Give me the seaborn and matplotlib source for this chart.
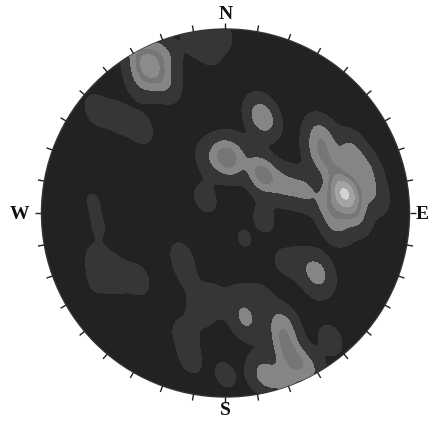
import numpy as np
import pandas as pd
import matplotlib
matplotlib.use('Agg')
import matplotlib.pyplot as plt
import seaborn as sns
from matplotlib.patches import Circle

# pole positions on the net (x = east, y = north, unit circle) and their counts
# main ENE cluster
main_x = [0.01, -0.08, 0.08, 0.20, 0.32, 0.43, 0.52, 0.51, 0.68, 0.76, 0.65, 0.57, 0.70, 0.60, 0.80, 0.20, 0.58]
main_y = [0.30, 0.29, 0.34, 0.21, 0.15, 0.125, 0.42, 0.32, 0.34, 0.23, 0.11, 0.04, -0.01, -0.07, 0.10, 0.52, 0.25]
main_n = [5, 1.5, 1, 5, 2.5, 2.5, 3, 2.5, 2.5, 2.5, 10, 3, 2.5, 2, 2, 4, 2.5]
# NNW cluster along the primitive
nw_x = [-0.41, -0.48, -0.33, -0.46, -0.33, -0.40, -0.17, -0.03, -0.08]
nw_y = [0.79, 0.86, 0.86, 0.72, 0.71, 0.87, 0.94, 0.97, 0.86]
nw_n = [4.5, 2, 2, 2, 2, 1.5, 1, 1, 0.6]
# scattered single poles
lone_x = [-0.70, -0.58, -0.46, -0.72, -0.69, -0.11, 0.21, 0.10, -0.24, -0.21, 0.31,
          -0.70, -0.61, -0.48, -0.71, 0.50, 0.40, 0.49]
lone_y = [0.56, 0.52, 0.46, 0.07, -0.08, 0.08, -0.03, -0.14, -0.23, -0.35, -0.27,
          -0.26, -0.33, -0.36, -0.39, -0.32, -0.27, -0.39]
lone_n = [1, 1, 1, 0.55, 0.55, 0.9, 0.8, 0.6, 0.8, 0.6, 0.6,
          0.8, 1.5, 1, 0.5, 2.8, 0.8, 0.6]
# S cluster
s_x = [0.11, 0.31, 0.32, 0.38, 0.21, 0.32, 0.46, -0.14, -0.22, -0.19, -0.06, 0.08, 0.00, 0.57, 0.19]
s_y = [-0.58, -0.61, -0.72, -0.81, -0.88, -0.91, -0.85, -0.53, -0.66, -0.80, -0.47, -0.47, -0.88, -0.69, -0.47]
s_n = [2.5, 3, 3, 3, 3, 2.5, 2, 1, 1, 0.8, 1, 0.8, 0.8, 1, 1]

# contour bands (iso-proportions of the density) and their grey shades
level_props = [0.10, 0.48, 0.78, 0.90, 0.96, 0.992, 1.0]
level_colors = ['#363636', '#858585', '#767676', '#8b8b8b', '#a3a3a3', '#d2d2d2']
directions = ['N', 'E', 'S', 'W']

poles = pd.DataFrame({'x': main_x + nw_x + lone_x + s_x,
                      'y': main_y + nw_y + lone_y + s_y,
                      'n': main_n + nw_n + lone_n + s_n})

fig = plt.figure(figsize=(4.33, 4.24), dpi=100)
ax = fig.add_axes([0, 0, 1, 1])

# net background
net = Circle((0, 0), 1.0, facecolor='#222222', edgecolor='#333333', lw=1.0, zorder=0)
ax.add_patch(net)

sns.kdeplot(data=poles, x='x', y='y', weights='n', fill=True, levels=level_props,
            cmap='Greys', bw_method=0.13, gridsize=300,
            clip=((-1.05, 1.05), (-1.05, 1.05)), ax=ax)
# one grey per band
cs = ax.collections[-1]
cs.set_array(None)
cs.set_facecolor(level_colors)
cs.set_edgecolor('none')
cs.set_clip_path(net)

# tick marks every 10 degrees around the primitive
for az in range(0, 360, 10):
    a = np.radians(az)
    ax.plot([np.sin(a), 1.035 * np.sin(a)], [np.cos(a), 1.035 * np.cos(a)],
            color='#222222', lw=1.0, solid_capstyle='butt')

label_pos = {'N': (0.0, 1.08), 'E': (1.068, -0.01), 'S': (0.0, -1.076), 'W': (-1.117, -0.01)}
for d in directions:
    ax.text(label_pos[d][0], label_pos[d][1], d, ha='center', va='center',
            fontsize=14, fontweight='bold', family='Liberation Serif', color='#111111')

ax.set_xlim(-1.2255, 1.1277)
ax.set_ylim(-1.1467, 1.1576)
ax.set_aspect('equal')
ax.axis('off')

fig.savefig('out.png', dpi=100, facecolor='white')
